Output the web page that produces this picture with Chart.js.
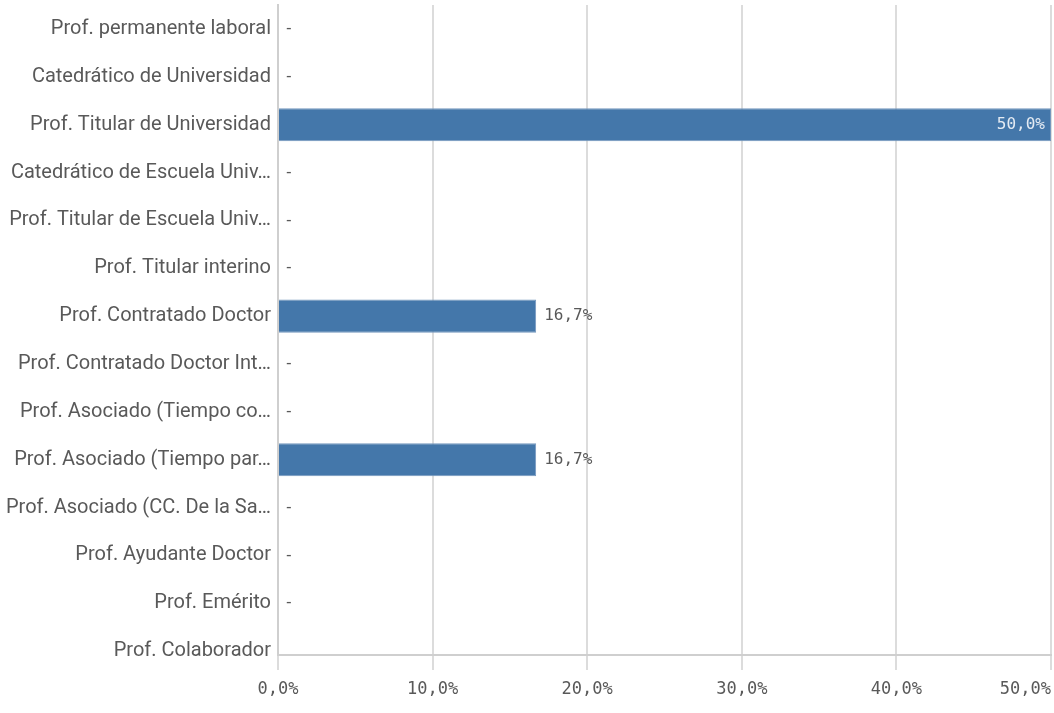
<!DOCTYPE html>
<html>
<head>
<meta charset="utf-8">
<script src="https://cdn.jsdelivr.net/npm/chart.js"></script>
<style>
  html, body { margin: 0; padding: 0; background: #fff; }
  #wrap { width: 1054px; height: 713px; }
</style>
</head>
<body>
<div id="wrap"><canvas id="myChart"></canvas></div>
<script>
// categories as shown (truncated the same way as the picture)
const categories = [
    'Prof. permanente laboral',
    'Catedrático de Universidad',
    'Prof. Titular de Universidad',
    'Catedrático de Escuela Univ…',
    'Prof. Titular de Escuela Univ…',
    'Prof. Titular interino',
    'Prof. Contratado Doctor',
    'Prof. Contratado Doctor Int…',
    'Prof. Asociado (Tiempo co…',
    'Prof. Asociado (Tiempo par…',
    'Prof. Asociado (CC. De la Sa…',
    'Prof. Ayudante Doctor',
    'Prof. Emérito',
    'Prof. Colaborador'
];
// percentage per category (null = no value shown)
const percentages = [0, 0, 50, 0, 0, 0, 16.7, 0, 0, 16.7, 0, 0, 0, null];
const xTicks = [0, 10, 20, 30, 40, 50];

const textColor = '#595959';
const monoFont = '"DejaVu Sans Mono", monospace';

function fmtPct(v) {
    return v.toFixed(1).replace('.', ',') + '%';
}

// draws the x tick labels (last one kept inside) and the value labels
const labelPlugin = {
    id: 'labelPlugin',
    afterDraw(chart) {
        const ctx = chart.ctx;
        const area = chart.chartArea;
        const xScale = chart.scales.x;
        ctx.save();
        ctx.fillStyle = textColor;
        ctx.font = '17px ' + monoFont;
        ctx.textBaseline = 'middle';
        xScale.ticks.forEach((t, i) => {
            const px = xScale.getPixelForValue(t.value);
            ctx.textAlign = i === xScale.ticks.length - 1 ? 'right' : 'center';
            ctx.fillText(fmtPct(t.value), px, area.bottom + 35);
        });

        const meta = chart.getDatasetMeta(0);
        ctx.font = '16px ' + monoFont;
        meta.data.forEach((bar, i) => {
            const v = percentages[i];
            if (v === null || v === undefined) return;
            if (v === 0) {
                ctx.fillStyle = textColor;
                ctx.textAlign = 'left';
                ctx.fillText('-', xScale.getPixelForValue(0) + 6, bar.y);
                return;
            }
            const txt = fmtPct(v);
            const w = ctx.measureText(txt).width;
            if (bar.x + 8 + w <= area.right) {
                ctx.fillStyle = textColor;
                ctx.textAlign = 'left';
                ctx.fillText(txt, bar.x + 8, bar.y);
            } else {
                ctx.fillStyle = '#e4ebf3';
                ctx.textAlign = 'right';
                ctx.fillText(txt, bar.x - 6, bar.y);
            }
        });
        ctx.restore();
    }
};

const ctx = document.getElementById('myChart').getContext('2d');
const myChart = new Chart(ctx, {
    type: 'bar',
    data: {
        datasets: [{
            data: percentages.map((v, i) => ({ x: v, y: i })),
            backgroundColor: '#4477aa',
            borderColor: '#7497bd',
            borderWidth: 1,
            barPercentage: 0.69,
            categoryPercentage: 1
        }]
    },
    options: {
        indexAxis: 'y',
        responsive: true,
        maintainAspectRatio: false,
        animation: false,
        layout: { padding: { top: 5, right: 3, left: 0, bottom: 0 } },
        plugins: {
            legend: { display: false },
            tooltip: { enabled: false }
        },
        scales: {
            x: {
                type: 'linear',
                min: 0,
                max: 50,
                afterBuildTicks: axis => { axis.ticks = xTicks.map(v => ({ value: v })); },
                afterFit: axis => {
                    axis.height = 58;
                    axis.paddingLeft = 0;
                    axis.paddingRight = 0;
                },
                ticks: { display: false },
                grid: {
                    color: '#dcdcdc',
                    lineWidth: 2,
                    drawTicks: true,
                    tickLength: 15
                },
                border: { display: true, color: '#cfcfcf', width: 2 }
            },
            y: {
                type: 'linear',
                reverse: true,
                offset: false,
                min: -0.5,
                max: 13.08,
                afterBuildTicks: axis => { axis.ticks = categories.map((c, i) => ({ value: i })); },
                afterFit: axis => {
                    axis.width = 278;
                    axis.paddingTop = 0;
                    axis.paddingBottom = 0;
                },
                ticks: {
                    autoSkip: false,
                    padding: 7,
                    color: textColor,
                    font: { family: 'Roboto', size: 20 },
                    callback: v => categories[v]
                },
                grid: { display: false, drawTicks: false, offset: false },
                border: { display: true, color: '#cfcfcf', width: 2 }
            }
        }
    },
    plugins: [labelPlugin]
});
</script>
</body>
</html>
